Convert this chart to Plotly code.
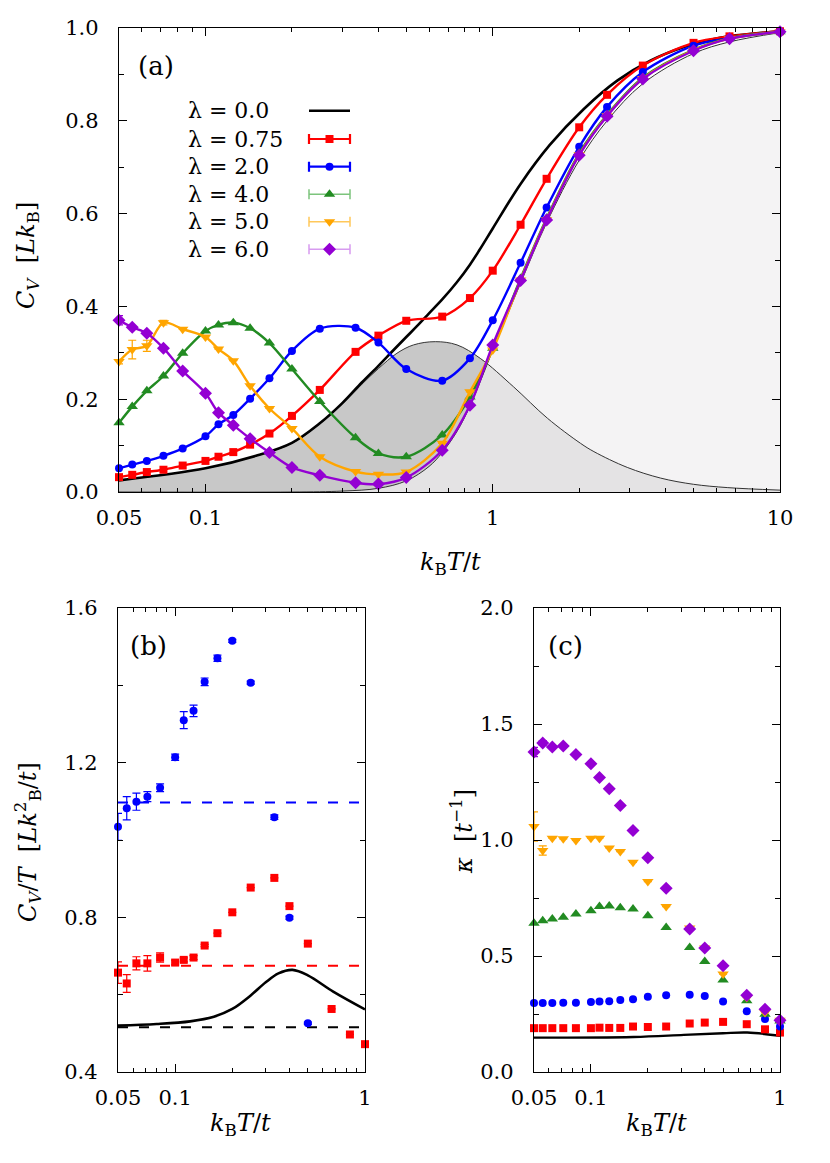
import plotly.graph_objects as go

W, H = 830, 1163

# ---------------- data: panel (a) ----------------
T_a = [0.05, 0.0556, 0.0625, 0.0714, 0.0833, 0.1, 0.111, 0.125, 0.143, 0.167, 0.2, 0.25,
       0.333, 0.4, 0.5, 0.667, 0.833, 1.0, 1.25, 1.54, 2.0, 2.5, 3.33, 5.0, 6.67, 10.0]
cv_l075 = [0.032, 0.037, 0.043, 0.048, 0.057, 0.067, 0.076, 0.086, 0.102, 0.126, 0.164, 0.220,
           0.302, 0.337, 0.369, 0.378, 0.418, 0.477, 0.576, 0.675, 0.786, 0.856, 0.919, 0.968, 0.982, 0.993]
cv_l2 = [0.051, 0.059, 0.067, 0.078, 0.094, 0.120, 0.146, 0.166, 0.201, 0.245, 0.304, 0.352,
         0.354, 0.322, 0.265, 0.240, 0.288, 0.370, 0.494, 0.613, 0.744, 0.830, 0.905, 0.962, 0.978, 0.992]
cv_l4 = [0.149, 0.184, 0.218, 0.250, 0.299, 0.347, 0.360, 0.365, 0.353, 0.321, 0.265, 0.195,
         0.117, 0.083, 0.076, 0.123, 0.205, 0.310, 0.460, 0.590, 0.730, 0.813, 0.893, 0.953, 0.978, 0.992]
cv_l5 = [0.281, 0.307, 0.315, 0.365, 0.351, 0.334, 0.308, 0.283, 0.229, 0.180, 0.137, 0.076,
         0.044, 0.038, 0.043, 0.105, 0.216, 0.306, 0.457, 0.587, 0.727, 0.811, 0.891, 0.952, 0.977, 0.992]
cv_l6 = [0.370, 0.355, 0.342, 0.310, 0.261, 0.213, 0.171, 0.144, 0.115, 0.085, 0.053, 0.036,
         0.020, 0.017, 0.031, 0.090, 0.187, 0.317, 0.456, 0.586, 0.726, 0.810, 0.890, 0.951, 0.977, 0.992]
err_l5 = [0.005, 0.020, 0.012, 0.005] + [0.0] * 22
err_l6 = [0.010] + [0.0] * 25

# lambda = 0 (thick black curve)
T_l0 = [0.05, 0.1, 0.15, 0.2, 0.25, 0.3, 0.35, 0.4, 0.45, 0.5, 0.55, 0.6, 0.667, 0.75, 0.833, 0.9, 1.0,
        1.25, 1.58, 2.08, 2.72, 3.55, 4.63, 6.05, 10.0]
cv_l0 = [0.025, 0.051, 0.078, 0.106, 0.148, 0.192, 0.236, 0.272, 0.305, 0.334, 0.360, 0.385, 0.415,
         0.452, 0.490, 0.522, 0.568, 0.664, 0.748, 0.826, 0.887, 0.930, 0.959, 0.978, 0.993]

# electronic contribution (dark shaded peak)
T_el = [0.05, 0.1, 0.15, 0.2, 0.25, 0.3, 0.35, 0.4, 0.464, 0.53, 0.631, 0.751, 0.905, 1.18,
        1.55, 2.02, 2.25, 2.94, 3.84, 5.0, 6.55, 10.0]
cv_el = [0.025, 0.051, 0.078, 0.105, 0.147, 0.190, 0.232, 0.266, 0.299, 0.317, 0.324, 0.317, 0.288, 0.227,
         0.159, 0.105, 0.087, 0.053, 0.030, 0.0166, 0.0095, 0.004]

# phonon contribution (light shaded)
T_ph = [0.05, 0.2, 0.3, 0.4, 0.5, 0.6, 0.667, 0.75, 0.833, 1.0, 1.25, 1.54, 2.0, 2.5, 3.33, 5.0, 6.67, 10.0]
cv_ph = [0.0, 0.0, 0.002, 0.008, 0.024, 0.055, 0.085, 0.130, 0.185, 0.305, 0.450, 0.580, 0.715, 0.800,
         0.880, 0.945, 0.970, 0.990]

# ---------------- data: panel (b) ----------------
T_b = [0.05, 0.0556, 0.0625, 0.0714, 0.0833, 0.1, 0.111, 0.125, 0.143, 0.167, 0.2, 0.25,
       0.333, 0.4, 0.5, 0.667, 0.833, 1.0]
cvT_l2 = [1.034, 1.082, 1.099, 1.112, 1.135, 1.214, 1.310, 1.334, 1.409, 1.470, 1.515, 1.407,
          1.059, 0.799, 0.526]
cvT_l2_err = [0.035, 0.030, 0.022, 0.013, 0.010, 0.008, 0.022, 0.015, 0.010, 0.008, 0.004, 0.004,
              0.006, 0.004, 0.003]
cvT_l075 = [0.657, 0.629, 0.681, 0.681, 0.696, 0.683, 0.690, 0.696, 0.727, 0.759, 0.813, 0.877,
            0.902, 0.829, 0.732, 0.563, 0.497, 0.472]
cvT_l075_err = [0.028, 0.023, 0.017, 0.020, 0.012, 0.006, 0.005, 0.005, 0.003, 0.0, 0.0, 0.0,
                0.0, 0.0, 0.0, 0.0, 0.0, 0.0]
T_b_l0 = [0.05, 0.08, 0.12, 0.16, 0.2, 0.25, 0.3, 0.35, 0.415, 0.5, 0.68, 1.0]
cvT_l0 = [0.520, 0.524, 0.531, 0.543, 0.563, 0.598, 0.632, 0.655, 0.664, 0.650, 0.608, 0.562]
gamma_l0, gamma_l075, gamma_l2 = 0.516, 0.675, 1.097
T_b_range = [0.05, 1.0]

# ---------------- data: panel (c) ----------------
kap_l6 = [1.379, 1.418, 1.401, 1.405, 1.369, 1.329, 1.269, 1.221, 1.149, 1.041, 0.923, 0.792,
          0.616, 0.534, 0.458, 0.331, 0.271, 0.223]
kap_l5 = [1.058, 0.955, 1.008, 1.005, 0.998, 1.008, 1.008, 0.966, 0.950, 0.904, 0.821, 0.713,
          0.621, 0.534, 0.422, 0.321, 0.256, 0.223]
kap_l4 = [0.641, 0.652, 0.660, 0.667, 0.681, 0.695, 0.713, 0.716, 0.708, 0.703, 0.674, 0.623,
          0.537, 0.476, 0.397, 0.307, 0.249, 0.220]
kap_l2 = [0.297, 0.297, 0.297, 0.298, 0.299, 0.302, 0.304, 0.305, 0.310, 0.314, 0.324, 0.331,
          0.333, 0.328, 0.304, 0.262, 0.228, 0.196]
kap_l075 = [0.189, 0.189, 0.189, 0.189, 0.189, 0.189, 0.191, 0.190, 0.190, 0.196, 0.194, 0.196,
            0.209, 0.213, 0.216, 0.206, 0.184, 0.170]
kap_l5_err = [0.063, 0.02] + [0.0] * 16
kap_l6_err = [0.02, 0.01] + [0.0] * 16
T_c_l0 = [0.05, 0.168, 0.31, 0.5, 0.671, 1.0]
kap_l0 = [0.148, 0.151, 0.160, 0.167, 0.170, 0.156]

legend_labels = ["λ = 0.0", "λ = 0.75", "λ = 2.0", "λ = 4.0", "λ = 5.0", "λ = 6.0"]

# ---------------- styles ----------------
RED, BLUE, GREEN, ORANGE, PURPLE = "#ff0000", "#0000ff", "#228b22", "#ffa500", "#9400d3"
FONT = "DejaVu Serif"
FS = 21
OFF = 8  # page body margin


def px_x(p):
    return (p - OFF) / W


def px_y(p):
    return 1 - (p - OFF) / H


fig = go.Figure()

# ---- panel (a) shading ----
fig.add_trace(go.Scatter(x=T_el, y=cv_el, mode="lines", line=dict(width=0, shape="spline"),
                         fill="tozeroy", fillcolor="#c8c8c8", xaxis="x", yaxis="y",
                         hoverinfo="skip", showlegend=False))
fig.add_trace(go.Scatter(x=T_ph, y=cv_ph, mode="lines", line=dict(width=0, shape="spline"),
                         fill="tozeroy", fillcolor="rgba(240,238,240,0.70)", xaxis="x", yaxis="y",
                         hoverinfo="skip", showlegend=False))
fig.add_trace(go.Scatter(x=T_el, y=cv_el, mode="lines", line=dict(width=1, color="#333", shape="spline"),
                         xaxis="x", yaxis="y", showlegend=False))
fig.add_trace(go.Scatter(x=T_ph, y=cv_ph, mode="lines", line=dict(width=1, color="#333", shape="spline"),
                         xaxis="x", yaxis="y", showlegend=False))
fig.add_trace(go.Scatter(x=T_l0, y=cv_l0, mode="lines", line=dict(width=2.6, color="black", shape="spline"),
                         xaxis="x", yaxis="y", showlegend=False))

series_a = [
    (cv_l075, RED, "square", 8, None),
    (cv_l2, BLUE, "circle", 8, None),
    (cv_l4, GREEN, "triangle-up", 10, None),
    (cv_l5, ORANGE, "triangle-down", 10, err_l5),
    (cv_l6, PURPLE, "diamond", 10, err_l6),
]
for vals, col, sym, sz, err in series_a:
    tr = dict(x=T_a, y=vals, mode="lines+markers",
              line=dict(width=2.4, color=col, shape="spline", smoothing=0.9),
              marker=dict(symbol=sym, size=sz, color=col),
              xaxis="x", yaxis="y", showlegend=False, cliponaxis=False)
    if err is not None:
        tr["error_y"] = dict(type="data", array=err, color=col, thickness=1.2, width=4)
    fig.add_trace(go.Scatter(**tr))

# ---- panel (b) ----
for lvl, col in [(gamma_l0, "black"), (gamma_l075, RED), (gamma_l2, BLUE)]:
    fig.add_trace(go.Scatter(x=T_b_range, y=[lvl, lvl], mode="lines",
                             line=dict(width=2, color=col, dash="10px,11px"),
                             xaxis="x2", yaxis="y2", showlegend=False))
fig.add_trace(go.Scatter(x=T_b_l0, y=cvT_l0, mode="lines", line=dict(width=2.6, color="black", shape="spline"),
                         xaxis="x2", yaxis="y2", showlegend=False))
fig.add_trace(go.Scatter(x=T_b, y=cvT_l075, mode="markers",
                         marker=dict(symbol="square", size=8, color=RED),
                         error_y=dict(type="data", array=cvT_l075_err, color=RED, thickness=1.2, width=4),
                         xaxis="x2", yaxis="y2", showlegend=False, cliponaxis=False))
fig.add_trace(go.Scatter(x=T_b[:len(cvT_l2)], y=cvT_l2, mode="markers",
                         marker=dict(symbol="circle", size=8, color=BLUE),
                         error_y=dict(type="data", array=cvT_l2_err, color=BLUE, thickness=1.2, width=4),
                         xaxis="x2", yaxis="y2", showlegend=False, cliponaxis=False))

# ---- panel (c) ----
fig.add_trace(go.Scatter(x=T_c_l0, y=kap_l0, mode="lines", line=dict(width=2.4, color="black", shape="spline"),
                         xaxis="x3", yaxis="y3", showlegend=False))
series_c = [
    (kap_l075, RED, "square", 8, None),
    (kap_l2, BLUE, "circle", 8, None),
    (kap_l4, GREEN, "triangle-up", 10, None),
    (kap_l5, ORANGE, "triangle-down", 10, kap_l5_err),
    (kap_l6, PURPLE, "diamond", 10, kap_l6_err),
]
for vals, col, sym, sz, err in series_c:
    tr = dict(x=T_b, y=vals, mode="markers", marker=dict(symbol=sym, size=sz, color=col),
              xaxis="x3", yaxis="y3", showlegend=False, cliponaxis=False)
    if err is not None:
        tr["error_y"] = dict(type="data", array=err, color=col, thickness=1.2, width=4)
    fig.add_trace(go.Scatter(**tr))

# ---- manual legend (panel a) on an overlay pixel axis ----
leg_rows = [110.7, 139.0, 166.7, 194.2, 221.8, 249.3]
leg_line_cols = ["black", RED, BLUE, "#7cc47c", "#ffc85a", "#d79bf0"]
leg_marker = [None, ("square", 8, RED), ("circle", 8, BLUE), ("triangle-up", 10, GREEN),
              ("triangle-down", 10, ORANGE), ("diamond", 10, PURPLE)]
for i, lab in enumerate(legend_labels):
    yrow = leg_rows[i] - OFF
    if leg_marker[i] is None:
        fig.add_trace(go.Scatter(x=[309 - OFF, 350 - OFF], y=[yrow, yrow], mode="lines",
                                 line=dict(color="black", width=2.6),
                                 xaxis="x4", yaxis="y4", showlegend=False, hoverinfo="skip"))
    else:
        sym, sz, col = leg_marker[i]
        lw = 2.2 if i < 3 else 1.5
        fig.add_trace(go.Scatter(x=[329.5 - OFF], y=[yrow], mode="markers",
                                 marker=dict(symbol=sym, size=sz, color=col),
                                 error_x=dict(type="constant", value=20.5, color=leg_line_cols[i],
                                              thickness=lw, width=5),
                                 xaxis="x4", yaxis="y4", showlegend=False, hoverinfo="skip"))
    fig.add_annotation(x=px_x(186), y=px_y(leg_rows[i]), xref="paper", yref="paper", text=lab,
                       showarrow=False, xanchor="left", yanchor="middle",
                       font=dict(family=FONT, size=22, color="black"))

# ---------------- axes ----------------
common = dict(showline=True, linecolor="black", linewidth=1.4, mirror="allticks",
              ticks="inside", ticklen=8, tickwidth=1.2, tickcolor="black", showgrid=False,
              zeroline=False, automargin=False, tickfont=dict(family=FONT, size=FS, color="black"))
minor_log_a = [0.06, 0.07, 0.08, 0.09, 0.2, 0.3, 0.4, 0.5, 0.6, 0.7, 0.8, 0.9,
               2, 3, 4, 5, 6, 7, 8, 9]
minor_log_b = [0.06, 0.07, 0.08, 0.09, 0.2, 0.3, 0.4, 0.5, 0.6, 0.7, 0.8, 0.9]

fig.update_layout(
    template="none",
    width=W, height=H, margin=dict(l=0, r=0, t=0, b=0, autoexpand=False),
    paper_bgcolor="white", plot_bgcolor="rgba(0,0,0,0)",
    font=dict(family=FONT, size=FS, color="black"),
    xaxis=dict(type="log", range=[-1.30103, 1], domain=[px_x(119), px_x(780)], anchor="y",
               tickvals=[0.05, 0.1, 1, 10], ticktext=["0.05", "0.1", "1", "10"],
               minor=dict(tickvals=minor_log_a, ticks="inside", ticklen=4, tickcolor="black"),
               ticklabelstandoff=7, **common),
    yaxis=dict(range=[0, 1], domain=[px_y(492), px_y(28)], anchor="x",
               tickvals=[0, 0.2, 0.4, 0.6, 0.8, 1.0], tickformat=".1f",
               minor=dict(dtick=0.1, ticks="inside", ticklen=5, tickcolor="black"),
               ticklabelstandoff=15, **common),
    xaxis2=dict(type="log", range=[-1.30103, 0], domain=[px_x(118), px_x(365)], anchor="y2",
                tickvals=[0.05, 0.1, 1], ticktext=["0.05", "0.1", "1"],
                minor=dict(tickvals=minor_log_b, ticks="inside", ticklen=4, tickcolor="black"),
                ticklabelstandoff=7, **common),
    yaxis2=dict(range=[0.4, 1.6], domain=[px_y(1072), px_y(608)], anchor="x2",
                tickvals=[0.4, 0.8, 1.2, 1.6], tickformat=".1f",
                minor=dict(dtick=0.2, tick0=0.4, ticks="inside", ticklen=5, tickcolor="black"),
                ticklabelstandoff=15, **common),
    xaxis3=dict(type="log", range=[-1.30103, 0], domain=[px_x(534), px_x(780)], anchor="y3",
                tickvals=[0.05, 0.1, 1], ticktext=["0.05", "0.1", "1"],
                minor=dict(tickvals=minor_log_b, ticks="inside", ticklen=4, tickcolor="black"),
                ticklabelstandoff=7, **common),
    yaxis3=dict(range=[0, 2], domain=[px_y(1072), px_y(608)], anchor="x3",
                tickvals=[0, 0.5, 1.0, 1.5, 2.0], tickformat=".1f",
                minor=dict(dtick=0.25, ticks="inside", ticklen=5, tickcolor="black"),
                ticklabelstandoff=15, **common),
    xaxis4=dict(range=[0, W], domain=[0, 1], anchor="y4", visible=False, fixedrange=True, automargin=False),
    yaxis4=dict(range=[H, 0], domain=[0, 1], anchor="x4", visible=False, fixedrange=True, automargin=False),
)

# ---------------- titles & panel labels ----------------
def ann(x, y, text, size=FS, angle=0, xanchor="center", family=FONT):
    fig.add_annotation(x=px_x(x), y=px_y(y), xref="paper", yref="paper", text=text,
                       showarrow=False, textangle=angle, xanchor=xanchor, yanchor="middle",
                       font=dict(family=family, size=size, color="black"))


xlab = "<i>k</i><sub>B</sub><i>T</i>/<i>t</i>"
ann(450, 564, xlab, size=24)
ann(240, 1124, xlab, size=24)
ann(656, 1124, xlab, size=24)
ann(27, 256, "<i>C<sub>V</sub></i>  [<i>Lk</i><sub>B</sub>]", size=24, angle=-90)
ann(27, 842, "<i>C<sub>V</sub></i>/<i>T</i>  [<i>Lk</i><sup>2</sup><sub>B</sub>/<i>t</i>]", size=24, angle=-90)
ann(462, 832, "<i>κ</i>  [<i>t</i><sup>−1</sup>]", size=24, angle=-90)
ann(136, 66, "(a)", size=26, xanchor="left")
ann(128, 646, "(b)", size=26, xanchor="left")
ann(546, 646, "(c)", size=26, xanchor="left")

fig.write_html("out.html")
